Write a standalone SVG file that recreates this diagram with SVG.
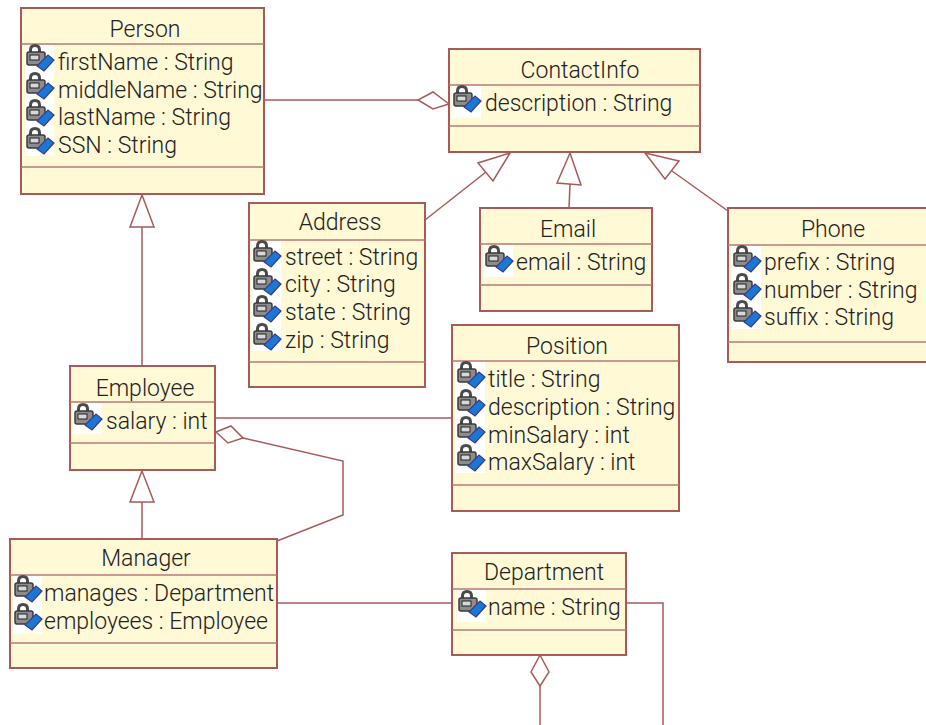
<svg xmlns="http://www.w3.org/2000/svg" width="926" height="725" viewBox="0 0 926 725">
<style>
.box{fill:#fff9d6;stroke:#a85a5a;stroke-width:2}
.div{stroke:#b87878;stroke-width:1.500;fill:none}
.c{fill:none;stroke:#a85a5a;stroke-width:1.500}
.h{fill:#fff;stroke:#a85a5a;stroke-width:1.500}
text{font-family:Roboto,"Liberation Sans",Arial,sans-serif;font-weight:300;font-size:23px;fill:#222}
.t{text-anchor:middle}
</style>
<defs>
<g id="icon">
<path d="M5.500 9V6Q5.500 1.500 10 1.500T14.500 6V9" fill="none" stroke="#4a4a4a" stroke-width="3"/>
<rect x="2" y="8" width="18" height="13" rx="2" fill="#8c8c8c" stroke="#3a3a3a" stroke-width="1.500"/>
<rect x="5" y="11" width="9" height="5" fill="#d8d8d8" stroke="#222"/>
<path d="M12 22L23 11L29 16L19 27Z" fill="#1a78d4" stroke="#3a3a90" stroke-width="1.200"/>
</g>
</defs>
<g id="connectors">
<path class="c" d="M265 100H419"/>
<path class="h" d="M449 104L433 92L418 100L433 109Z"/>
<path class="c" d="M142 366V227"/>
<path class="h" d="M142 195L130 227H154Z"/>
<path class="c" d="M425 220L486 172"/>
<path class="h" d="M510 153L478 163L493 181Z"/>
<path class="c" d="M569 208L570 184"/>
<path class="h" d="M570 153L557 183L581 185Z"/>
<path class="c" d="M728 211L672 171"/>
<path class="h" d="M645 153L679 161L665 179Z"/>
<path class="c" d="M216 418H452"/>
<path class="c" d="M277 541L343 515V461L243 438"/>
<path class="h" d="M216 432L231 426L243 438L228 443Z"/>
<path class="c" d="M142 539V502"/>
<path class="h" d="M142 471L130 502H154Z"/>
<path class="c" d="M277 603H452"/>
<path class="c" d="M626 603H663V725"/>
<path class="c" d="M540 686V725"/>
<path class="h" d="M540 655L549 672L540 686L531 672Z"/>
</g>
<g id="person">
<rect class="box" x="21" y="8" width="243" height="186"/>
<path class="div" d="M21 44H264M21 167H264"/>
<rect x="25" y="45" width="29" height="111" fill="#fff"/>
<use href="#icon" x="25" y="44"/><use href="#icon" x="25" y="72"/><use href="#icon" x="25" y="99"/><use href="#icon" x="25" y="127"/>
<text class="t" x="145" y="37">Person</text>
<text x="58" y="70">firstName : String</text>
<text x="58" y="98">middleName : String</text>
<text x="58" y="125">lastName : String</text>
<text x="58" y="153">SSN : String</text>
</g>
<g id="contactinfo">
<rect class="box" x="449" y="49" width="251" height="103"/>
<path class="div" d="M449 85H700M449 126H700"/>
<rect x="452" y="86" width="29" height="32" fill="#fff"/>
<use href="#icon" x="452" y="85"/>
<text class="t" x="580" y="78">ContactInfo</text>
<text x="485" y="111">description : String</text>
</g>
<g id="address">
<rect class="box" x="249" y="203" width="176" height="184"/>
<path class="div" d="M249 240H425M249 362H425"/>
<rect x="252" y="241" width="29" height="110" fill="#fff"/>
<use href="#icon" x="252" y="240"/><use href="#icon" x="252" y="268"/><use href="#icon" x="252" y="295"/><use href="#icon" x="252" y="323"/>
<text class="t" x="340" y="230">Address</text>
<text x="285" y="265">street : String</text>
<text x="285" y="292">city : String</text>
<text x="285" y="320">state : String</text>
<text x="285" y="348">zip : String</text>
</g>
<g id="email">
<rect class="box" x="480" y="208" width="172" height="103"/>
<path class="div" d="M480 244H652M480 285H652"/>
<rect x="484" y="245" width="29" height="32" fill="#fff"/>
<use href="#icon" x="484" y="245"/>
<text class="t" x="568" y="237">Email</text>
<text x="516" y="270">email : String</text>
</g>
<g id="phone">
<rect class="box" x="728" y="208" width="200" height="154"/>
<path class="div" d="M728 245H926M728 342H926"/>
<rect x="732" y="246" width="29" height="83" fill="#fff"/>
<use href="#icon" x="732" y="245"/><use href="#icon" x="732" y="273"/><use href="#icon" x="732" y="300"/>
<text class="t" x="833" y="237">Phone</text>
<text x="764" y="270">prefix : String</text>
<text x="764" y="298">number : String</text>
<text x="764" y="325">suffix : String</text>
</g>
<g id="position">
<rect class="box" x="452" y="325" width="227" height="186"/>
<path class="div" d="M452 361H679M452 485H679"/>
<rect x="456" y="362" width="29" height="111" fill="#fff"/>
<use href="#icon" x="456" y="361"/><use href="#icon" x="456" y="389"/><use href="#icon" x="456" y="416"/><use href="#icon" x="456" y="444"/>
<text class="t" x="567" y="354">Position</text>
<text x="488" y="387">title : String</text>
<text x="488" y="415">description : String</text>
<text x="488" y="443">minSalary : int</text>
<text x="488" y="470">maxSalary : int</text>
</g>
<g id="employee">
<rect class="box" x="70" y="366" width="145" height="104"/>
<path class="div" d="M70 402H215M70 443H215"/>
<rect x="73" y="403" width="29" height="31" fill="#fff"/>
<use href="#icon" x="73" y="403"/>
<text class="t" x="145" y="396">Employee</text>
<text x="106" y="429">salary : int</text>
</g>
<g id="manager">
<rect class="box" x="10" y="539" width="267" height="129"/>
<path class="div" d="M10 575H277M10 643H277"/>
<rect x="13" y="576" width="29" height="58" fill="#fff"/>
<use href="#icon" x="13" y="575"/><use href="#icon" x="13" y="603"/>
<text class="t" x="146" y="566">Manager</text>
<text x="44" y="601">manages : Department</text>
<text x="44" y="629">employees : Employee</text>
</g>
<g id="department">
<rect class="box" x="452" y="553" width="174" height="102"/>
<path class="div" d="M452 589H626M452 630H626"/>
<rect x="457" y="590" width="29" height="32" fill="#fff"/>
<use href="#icon" x="457" y="590"/>
<text class="t" x="544" y="580">Department</text>
<text x="488" y="615">name : String</text>
</g>
</svg>
